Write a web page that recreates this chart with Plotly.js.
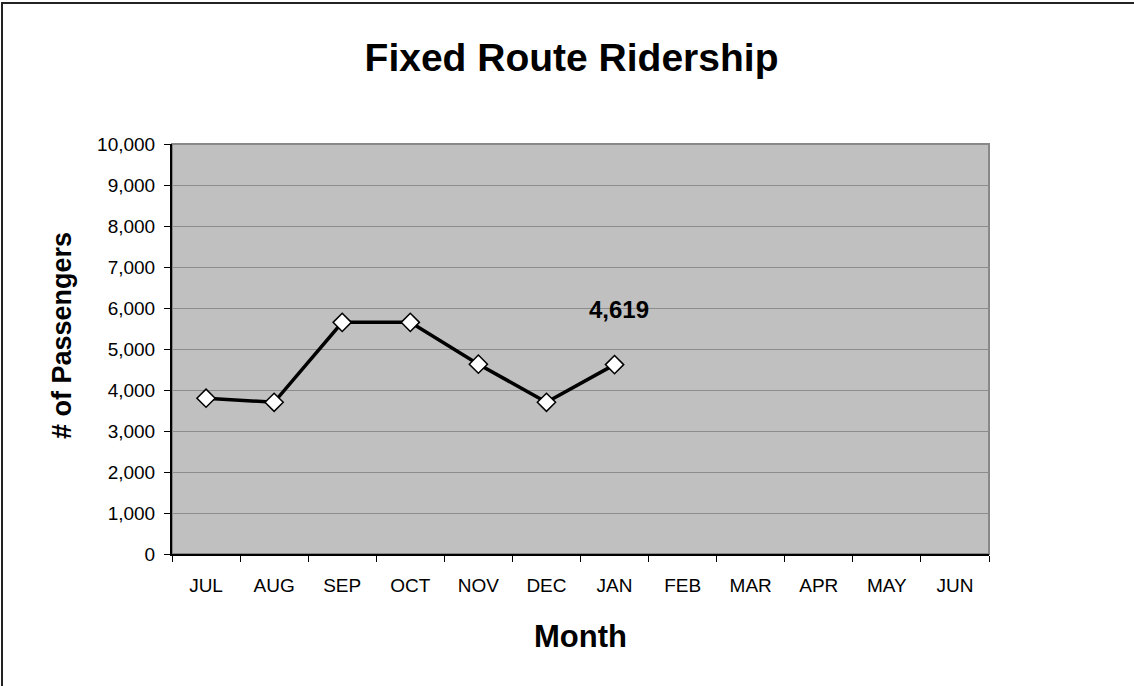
<!DOCTYPE html>
<html>
<head>
<meta charset="utf-8">
<script src="https://cdn.plot.ly/plotly-3.0.1.min.js"></script>
<style>
  html, body { margin: 0; padding: 0; background: #fff; }
  #wrap { position: relative; width: 1134px; height: 686px; overflow: hidden; }
  #chart { position: absolute; left: 0; top: 0; width: 1134px; height: 686px; }
  #frame { position: absolute; left: 1px; top: 2px; width: 1200px; height: 800px;
           border-left: 2px solid #222; border-top: 2px solid #222; pointer-events: none; }
</style>
</head>
<body>
<div id="wrap">
  <div id="chart"></div>
  <div id="frame"></div>
</div>
<script>
const months = ["JUL", "AUG", "SEP", "OCT", "NOV", "DEC", "JAN", "FEB", "MAR", "APR", "MAY", "JUN"];
const passengers = [3800, 3700, 5650, 5650, 4630, 3700, 4619];
const labelMonth = "JAN";
const labelValue = 4619;
const yTicks = [0, 1000, 2000, 3000, 4000, 5000, 6000, 7000, 8000, 9000, 10000];

const FONT = "Liberation Sans, Arial, sans-serif";

const trace = {
  x: months.slice(0, passengers.length),
  y: passengers,
  type: "scatter",
  mode: "lines+markers",
  line: { color: "#000000", width: 3.5 },
  marker: { symbol: "diamond", size: 14, color: "#ffffff", line: { color: "#000000", width: 1.5 } },
  cliponaxis: false,
  hoverinfo: "x+y"
};

const layout = {
  width: 1134,
  height: 686,
  paper_bgcolor: "#ffffff",
  plot_bgcolor: "#c0c0c0",
  margin: { l: 172, r: 145, t: 144, b: 132, pad: 0 },
  showlegend: false,
  font: { family: FONT, color: "#000000" },
  title: {
    text: "<b>Fixed Route Ridership</b>",
    font: { family: FONT, size: 39, color: "#000000" },
    xref: "container", yref: "container",
    x: 0.504, y: 1 - 57 / 686, xanchor: "center", yanchor: "middle"
  },
  xaxis: {
    type: "category",
    categoryorder: "array",
    categoryarray: months,
    range: [-0.5, months.length - 0.5],
    tickson: "boundaries",
    ticks: "outside",
    ticklen: 6,
    tickwidth: 1,
    tickcolor: "#000000",
    showline: true,
    linecolor: "#000000",
    linewidth: 2,
    showgrid: false,
    zeroline: false,
    tickfont: { family: FONT, size: 19, color: "#000000" },
    ticklabelstandoff: 13,
    title: { text: "<b>Month</b>", font: { family: FONT, size: 31, color: "#000000" }, standoff: 31 }
  },
  yaxis: {
    range: [0, 10000],
    tickvals: yTicks,
    ticktext: yTicks.map(v => v.toLocaleString("en-US")),
    ticks: "outside",
    ticklen: 6,
    tickwidth: 1,
    tickcolor: "#000000",
    showline: true,
    linecolor: "#000000",
    linewidth: 2,
    showgrid: true,
    gridcolor: "#8c8c8c",
    gridwidth: 1,
    zeroline: false,
    tickfont: { family: FONT, size: 19, color: "#000000" },
    ticklabelstandoff: 5,
    title: { text: "" }
  },
  shapes: [{
    type: "rect", xref: "paper", yref: "paper", x0: 0, x1: 1, y0: 0, y1: 1,
    line: { color: "#888888", width: 2 }, layer: "below"
  }],
  annotations: [
    {
      text: "<b># of Passengers</b>",
      xref: "paper", yref: "paper",
      x: (62 - 172) / 817, y: (554 - 336) / 410,
      xanchor: "center", yanchor: "middle",
      textangle: -90, showarrow: false,
      font: { family: FONT, size: 27, color: "#000000" }
    },
    {
      text: "<b>" + labelValue.toLocaleString("en-US") + "</b>",
      x: labelMonth, y: labelValue, xref: "x", yref: "y",
      showarrow: false, yshift: 55, xshift: 4,
      font: { family: FONT, size: 24, color: "#000000" }
    }
  ]
};

Plotly.newPlot("chart", [trace], layout, { displayModeBar: false, staticPlot: true });
</script>
</body>
</html>
